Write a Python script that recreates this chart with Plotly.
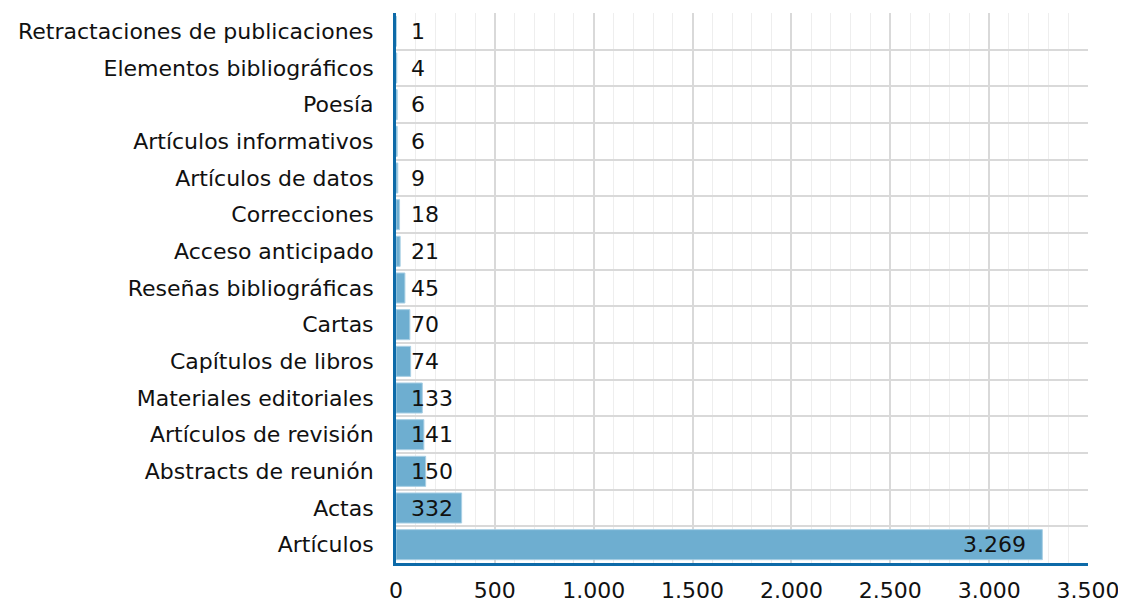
import plotly.graph_objects as go

categories = [
    "Artículos", "Actas", "Abstracts de reunión", "Artículos de revisión",
    "Materiales editoriales", "Capítulos de libros", "Cartas",
    "Reseñas bibliográficas", "Acceso anticipado", "Correcciones",
    "Artículos de datos", "Artículos informativos", "Poesía",
    "Elementos bibliográficos", "Retractaciones de publicaciones",
]
values = [3269, 332, 150, 141, 133, 74, 70, 45, 21, 18, 9, 6, 6, 4, 1]
x_tickvals = [0, 500, 1000, 1500, 2000, 2500, 3000, 3500]
x_ticktext = ["0", "500", "1.000", "1.500", "2.000", "2.500", "3.000", "3.500"]

FONT = "DejaVu Sans"
FS = 22
BAR = "#6eaed0"
AXIS = "#0d6aa8"

def fmt(v):
    return f"{v:,}".replace(",", ".")

fig = go.Figure()
fig.add_trace(go.Bar(
    x=values, y=categories, orientation="h",
    marker=dict(color=BAR, line=dict(color="#a9cfe4", width=1)),
    width=0.82, hoverinfo="skip",
))

vmax = max(values)
for c, v in zip(categories, values):
    if v == vmax:
        fig.add_annotation(x=v, y=c, text=fmt(v), showarrow=False,
                           xanchor="right", xshift=-14,
                           font=dict(family=FONT, size=FS, color="#111"))
    else:
        fig.add_annotation(x=0, y=c, text=fmt(v), showarrow=False,
                           xanchor="left", xshift=13,
                           font=dict(family=FONT, size=FS, color="#111"))

fig.update_layout(
    width=1118, height=595,
    margin=dict(l=388, r=38, t=5, b=40, autoexpand=False),
    paper_bgcolor="white", plot_bgcolor="white",
    showlegend=False,
    font=dict(family=FONT, size=FS, color="#111"),
)
fig.update_xaxes(
    range=[0, 3500], tickvals=x_tickvals, ticktext=x_ticktext,
    showgrid=True, gridcolor="#d9d9d9", gridwidth=2,
    minor=dict(dtick=100, showgrid=True, gridcolor="#eeeeee", gridwidth=1),
    showline=True, linecolor=AXIS, linewidth=3,
    zeroline=False, ticks="", ticklabelstandoff=6, automargin=False,
    tickfont=dict(family=FONT, size=FS, color="#111"),
)
fig.update_yaxes(
    type="category", categoryorder="array", categoryarray=categories,
    tickson="boundaries", showgrid=True, gridcolor="#d9d9d9", gridwidth=2,
    showline=True, linecolor=AXIS, linewidth=3,
    ticks="", ticklabelstandoff=15, automargin=False,
    tickfont=dict(family=FONT, size=FS, color="#111"),
    range=[-0.5, len(categories) - 0.5],
)

fig.write_html("out.html")
